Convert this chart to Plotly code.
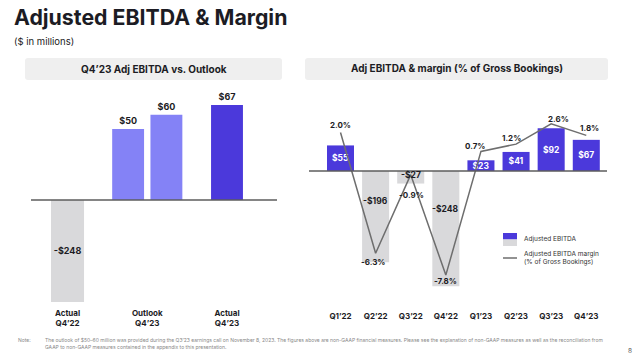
import plotly.graph_objects as go

# ---------------- data ----------------
left_categories = ["Actual<br>Q4’22", "Outlook<br>Q4’23", "Actual<br>Q4’23"]
prior_actual = [-248]
outlook_low = [50]
outlook_high = [60]
current_actual = [67]

quarters = ["Q1’22", "Q2’22", "Q3’22", "Q4’22", "Q1’23", "Q2’23", "Q3’23", "Q4’23"]
adj_ebitda = [55, -196, -27, -248, 23, 41, 92, 67]
margin_pct = [2.0, -6.3, -0.9, -7.8, 0.7, 1.2, 2.6, 1.8]

# ---------------- style ----------------
W, H = 640, 358
FONT = "Inter"
DARK = "#1c1c24"
BLUE = "#4b39db"
LIGHT_BLUE = "#8482f6"
GRAY = "#d9d9db"
LINE = "#6e6e6e"
BOX = "#efefef"

# pixel shifts (x, y-up) for each margin label, styling only
margin_label_shift = [(0, 7), (-3, -9), (1, -20), (0, -6), (-6, 5), (-5, 6), (7, 5), (3, 7)]


def px(x):
    return x / W


def py(y):
    return 1 - y / H


def money(v):
    return f"-${abs(v)}" if v < 0 else f"${v}"


fig = go.Figure()

# ---- left panel bars ----
fig.add_trace(go.Bar(
    x=[left_categories[0]], y=prior_actual, xaxis="x", yaxis="y2",
    marker=dict(color=GRAY, line=dict(width=0)), width=0.414, offset=-0.207,
    text=[money(v) for v in prior_actual], textposition="inside", insidetextanchor="middle",
    textangle=0,
    insidetextfont=dict(color=DARK, size=9, family=FONT, weight="bold"), constraintext="none",
    showlegend=False, hoverinfo="skip"))
fig.add_trace(go.Bar(
    x=[left_categories[1]], y=outlook_low, xaxis="x", yaxis="y",
    marker=dict(color=LIGHT_BLUE, line=dict(width=0)), width=0.40, offset=-0.44,
    text=[money(v) for v in outlook_low], textposition="outside", textangle=0,
    outsidetextfont=dict(color=DARK, size=9, family=FONT, weight="bold"), cliponaxis=False,
    showlegend=False, hoverinfo="skip"))
fig.add_trace(go.Bar(
    x=[left_categories[1]], y=outlook_high, xaxis="x", yaxis="y",
    marker=dict(color=LIGHT_BLUE, line=dict(width=0)), width=0.40, offset=0.04,
    text=[money(v) for v in outlook_high], textposition="outside", textangle=0,
    outsidetextfont=dict(color=DARK, size=9, family=FONT, weight="bold"), cliponaxis=False,
    showlegend=False, hoverinfo="skip"))
fig.add_trace(go.Bar(
    x=[left_categories[2]], y=current_actual, xaxis="x", yaxis="y",
    marker=dict(color=BLUE, line=dict(width=0)), width=0.40, offset=-0.20,
    text=[money(v) for v in current_actual], textposition="outside", textangle=0,
    outsidetextfont=dict(color=DARK, size=9, family=FONT, weight="bold"), cliponaxis=False,
    showlegend=False, hoverinfo="skip"))

# ---- right panel bars ----
fig.add_trace(go.Bar(
    x=quarters, y=adj_ebitda, xaxis="x2", yaxis="y3",
    marker=dict(color=[BLUE if v >= 0 else GRAY for v in adj_ebitda], line=dict(width=0)),
    width=0.77,
    text=[money(v) if v >= 0 else "" for v in adj_ebitda], textposition="inside",
    insidetextanchor="middle", constraintext="none", textangle=0,
    insidetextfont=dict(color="white", size=8.5, family=FONT, weight="bold"),
    showlegend=False, hoverinfo="skip"))

# margin line
fig.add_trace(go.Scatter(
    x=quarters, y=margin_pct, xaxis="x2", yaxis="y4", mode="lines",
    line=dict(color=LINE, width=1.5),
    cliponaxis=False, showlegend=False, hoverinfo="skip"))

annotations = []
for q, m, (dx, dy) in zip(quarters, margin_pct, margin_label_shift):
    annotations.append(dict(x=q, y=m, xref="x2", yref="y4", text=f"<b>{m:.1f}%</b>",
                            showarrow=False, xshift=dx, yshift=dy,
                            font=dict(color=DARK, size=8, family=FONT)))

# negative labels in right panel
for q, v in zip(quarters, adj_ebitda):
    if v < 0:
        annotations.append(dict(x=q, y=v * 0.33, xref="x2", yref="y3", text=f"<b>{money(v)}</b>",
                                showarrow=False, font=dict(color=DARK, size=8.5, family=FONT)))

# ---------------- shapes ----------------
shapes = []


def rounded_box(x0, y0, x1, y1, r=3):
    rx, ry = r / W, r / H
    X0, X1 = px(x0), px(x1)
    Y0, Y1 = py(y1), py(y0)  # bottom, top in paper
    path = (f"M {X0+rx},{Y0} L {X1-rx},{Y0} Q {X1},{Y0} {X1},{Y0+ry} "
            f"L {X1},{Y1-ry} Q {X1},{Y1} {X1-rx},{Y1} L {X0+rx},{Y1} "
            f"Q {X0},{Y1} {X0},{Y1-ry} L {X0},{Y0+ry} Q {X0},{Y0} {X0+rx},{Y0} Z")
    return dict(type="path", path=path, xref="paper", yref="paper",
                fillcolor=BOX, line=dict(width=0), layer="below")


shapes.append(rounded_box(25, 58, 282, 80))
shapes.append(rounded_box(305, 58, 608, 80))

# baselines
shapes.append(dict(type="line", xref="paper", yref="y", x0=px(31), x1=px(277), y0=0, y1=0,
                   line=dict(color="#5c5c5c", width=1.5)))
shapes.append(dict(type="line", xref="paper", yref="y3", x0=px(309), x1=px(607), y0=0, y1=0,
                   line=dict(color="#5c5c5c", width=1.5)))

# legend swatches
shapes.append(dict(type="rect", xref="paper", yref="paper", x0=px(503), x1=px(517),
                   y0=py(239.5), y1=py(233), fillcolor=BLUE, line=dict(width=0)))
shapes.append(dict(type="rect", xref="paper", yref="paper", x0=px(503), x1=px(517),
                   y0=py(246), y1=py(239.5), fillcolor=GRAY, line=dict(width=0)))
shapes.append(dict(type="line", xref="paper", yref="paper", x0=px(503), x1=px(517),
                   y0=py(258), y1=py(258), line=dict(color=LINE, width=1.5)))


def text(x, y, s, size, color=DARK, xanchor="left", bold=False, align="left"):
    annotations.append(dict(x=px(x), y=py(y), xref="paper", yref="paper",
                            text=f"<b>{s}</b>" if bold else s, showarrow=False,
                            xanchor=xanchor, yanchor="middle", align=align,
                            font=dict(size=size, color=color, family=FONT)))


text(12, 17, "Adjusted EBITDA & Margin", 21.3, bold=True)
text(12, 41, "($ in millions)", 9.5)
text(153.5, 69, "Q4’23 Adj EBITDA vs. Outlook", 10, xanchor="center", bold=True)
text(456.5, 69, "Adj EBITDA & margin (% of Gross Bookings)", 10, xanchor="center", bold=True)
text(522, 239, "Adjusted EBITDA", 6.5, color="#333")
text(522, 258, "Adjusted EBITDA margin<br>(% of Gross Bookings)", 6.5, color="#333")
text(16, 340, "Note:", 5.0, color="#888")
text(43, 343.5, "The outlook of $50–60 million was provided during the Q3’23 earnings call on November 8, 2023. "
     "The figures above are non-GAAP financial measures. Please see the explanation of non-GAAP measures as well as the reconciliation from"
     "<br>GAAP to non-GAAP measures contained in the appendix to this presentation.", 5.0, color="#888")
text(626, 351, "8", 6.5, color="#555")

axis_common = dict(showgrid=False, zeroline=False, showline=False, ticks="", fixedrange=True)

fig.update_layout(
    width=W, height=H, margin=dict(l=0, r=0, t=0, b=0),
    paper_bgcolor="white", plot_bgcolor="rgba(0,0,0,0)",
    barmode="overlay", showlegend=False,
    font=dict(family=FONT, color=DARK),
    xaxis=dict(domain=[px(31), px(277)], anchor="y", type="category",
               categoryorder="array", categoryarray=left_categories,
               range=[-0.458, 2.627],
               tickfont=dict(size=8, color=DARK, family=FONT, weight="bold"), **axis_common),
    yaxis=dict(domain=[py(307), py(90)], range=[-75.4, 77.5], visible=False, **axis_common),
    yaxis2=dict(overlaying="y", range=[-260.3, 267.6], visible=False, **axis_common),
    xaxis2=dict(domain=[px(309), px(607)], anchor="y3", type="category",
                categoryorder="array", categoryarray=quarters,
                range=[-0.897, 7.59],
                tickfont=dict(size=8, color=DARK, family=FONT, weight="bold"), **axis_common),
    yaxis3=dict(domain=[py(310), py(90)], anchor="x2", range=[-298.9, 174.2], visible=False, **axis_common),
    yaxis4=dict(overlaying="y3", anchor="x2", range=[-10.2, 4.92], visible=False, **axis_common),
    shapes=shapes, annotations=annotations,
)

fig.write_html("out.html", config={"displayModeBar": False, "staticPlot": True},
               post_script="document.body.style.margin='0';document.body.style.overflow='hidden';")
